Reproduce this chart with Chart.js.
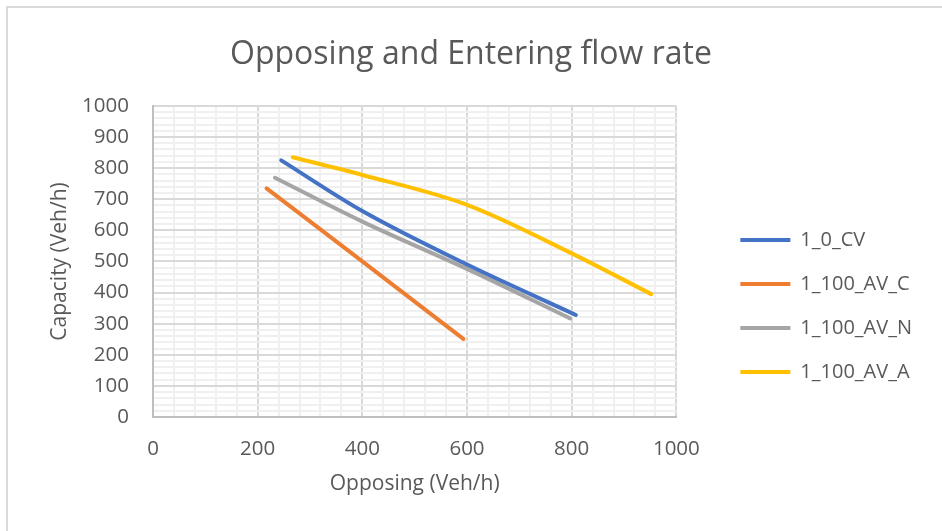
<!DOCTYPE html>
<html>
<head>
<meta charset="utf-8">
<script src="https://cdn.jsdelivr.net/npm/chart.js@4.4.1/dist/chart.umd.min.js"></script>
<style>
  html, body { margin: 0; padding: 0; background: #fff; overflow: hidden; }
  #wrap { position: relative; width: 942px; height: 531px; }
  #frame { position: absolute; left: 6px; top: 6px; width: 1000px; height: 600px;
           border-left: 2px solid #d9d9d9; border-top: 2px solid #d9d9d9; pointer-events: none; }
  canvas { position: absolute; left: 0; top: 0; }
</style>
</head>
<body>
<div id="wrap">
  <canvas id="chart" width="942" height="531"></canvas>
  <div id="frame"></div>
</div>
<script>
// Series: opposing flow (x) against capacity (y), veh/h
const seriesNames = ['1_0_CV', '1_100_AV_C', '1_100_AV_N', '1_100_AV_A'];
const opposingCV  = [245, 400, 600, 808];
const capacityCV  = [825, 662, 490, 328];
const opposingAVC = [217, 400, 593];
const capacityAVC = [735, 500, 251];
const opposingAVN = [233, 400, 600, 797];
const capacityAVN = [769, 628, 476, 317];
const opposingAVA = [267, 400, 600, 800, 952];
const capacityAVA = [835, 778, 682, 526, 395];
const seriesColors = ['#4472C4', '#ED7D31', '#A5A5A5', '#FFC000'];

// Axis labels
const xTickLabels = [0, 200, 400, 600, 800, 1000];
const yTickLabels = [0, 100, 200, 300, 400, 500, 600, 700, 800, 900, 1000];

const FONT = "'Open Sans', 'Liberation Sans', sans-serif";
const TEXT = '#595959';
const MAJOR = '#d9d9d9';
const MINOR = '#f0f0f0';

function toPoints(xs, ys) { return xs.map((x, i) => ({ x: x, y: ys[i] })); }

const allX = [opposingCV, opposingAVC, opposingAVN, opposingAVA];
const allY = [capacityCV, capacityAVC, capacityAVN, capacityAVA];

const datasets = seriesNames.map((name, i) => ({
  label: name,
  data: toPoints(allX[i], allY[i]),
  borderColor: seriesColors[i],
  backgroundColor: seriesColors[i],
  borderWidth: 4,
  borderCapStyle: 'round',
  borderJoinStyle: 'round',
  pointRadius: 0,
  pointHoverRadius: 0,
  cubicInterpolationMode: 'monotone',
  fill: false
}));

new Chart(document.getElementById('chart'), {
  type: 'line',
  data: { datasets: datasets },
  options: {
    responsive: false,
    animation: false,
    layout: { padding: { left: 20, right: 20, top: 0, bottom: 34 } },
    plugins: {
      tooltip: { enabled: false },
      title: {
        display: true,
        text: 'Opposing and Entering flow rate',
        color: TEXT,
        font: { family: FONT, size: 32, weight: 'normal' },
        padding: { top: 35.5, bottom: 32 }
      },
      legend: {
        position: 'right',
        align: 'start',
        maxWidth: 400,
        title: { display: true, text: '', font: { size: 12 }, padding: { top: 191.6, bottom: 0 } },
        labels: {
          color: TEXT,
          font: { family: FONT, size: 20 },
          boxWidth: 50,
          boxHeight: 4,
          padding: 24,
          generateLabels(chart) {
            const items = Chart.defaults.plugins.legend.labels.generateLabels(chart);
            return items.map(it => Object.assign(it, { fillStyle: it.strokeStyle, lineWidth: 0 }));
          }
        }
      }
    },
    scales: {
      x: {
        type: 'linear',
        min: 0, max: 1000,
        ticks: {
          stepSize: 40, autoSkip: false, maxRotation: 0,
          color: TEXT, font: { family: FONT, size: 20.5 }, padding: 20,
          callback: v => xTickLabels.includes(v) ? String(v) : ''
        },
        grid: {
          drawTicks: false, lineWidth: 2,
          color: c => (c.tick && c.tick.value % 200 === 0) ? MAJOR : MINOR
        },
        border: { color: '#bfbfbf', width: 2 },
        title: {
          display: true, text: 'Opposing (Veh/h)', color: TEXT,
          font: { family: FONT, size: 21 }, padding: { top: 8, bottom: 0 }
        },
        afterFit: s => { s.height = 80; }
      },
      y: {
        type: 'linear',
        min: 0, max: 1000,
        ticks: {
          stepSize: 20, autoSkip: false,
          color: TEXT, font: { family: FONT, size: 20.5 }, padding: 24,
          callback: v => yTickLabels.includes(v) ? String(v) : ''
        },
        grid: {
          drawTicks: false, lineWidth: 2,
          color: c => (c.tick && c.tick.value % 100 === 0) ? MAJOR : MINOR
        },
        border: { color: '#bfbfbf', width: 2 },
        title: {
          display: true, text: 'Capacity (Veh/h)', color: TEXT,
          font: { family: FONT, size: 21 }, padding: { top: 27.5, bottom: 0 }
        },
        afterFit: s => { s.width = 133; }
      },
      gap: {
        type: 'linear',
        position: 'right',
        display: true,
        grid: { display: false, drawTicks: false },
        border: { display: false },
        ticks: { display: false },
        afterFit: s => { s.width = 40; }
      }
    }
  }
});
</script>
</body>
</html>
